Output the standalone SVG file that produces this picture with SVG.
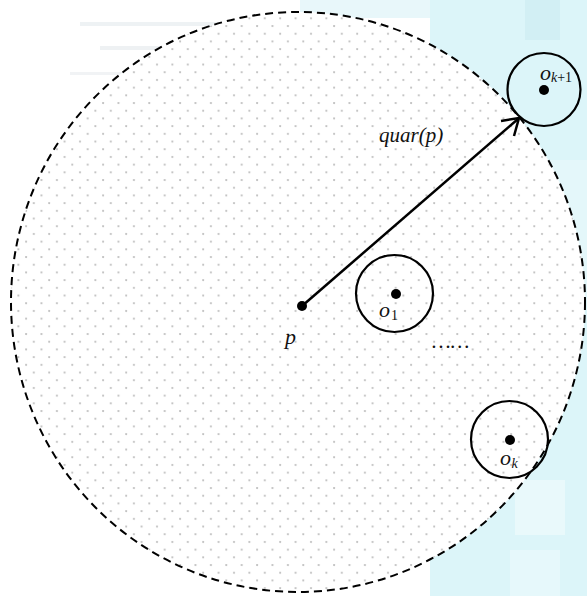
<svg xmlns="http://www.w3.org/2000/svg" width="587" height="596" viewBox="0 0 587 596">
<style>
.lbl{font-family:"Liberation Serif","Times New Roman",serif;font-style:italic;fill:#111}
.sub{font-family:"Liberation Serif","Times New Roman",serif;fill:#111;font-size:14px}
.ring{fill:none;stroke:#000;stroke-width:2.2}
.pt{fill:#000}
</style>
<defs>
<pattern id="dots" patternUnits="userSpaceOnUse" width="15.4" height="15.4">
<circle cx="3" cy="3" r="1.1" fill="#bdbdbd"/>
<circle cx="10.7" cy="10.7" r="1.1" fill="#bdbdbd"/>
</pattern>
</defs>
<rect width="587" height="596" fill="#ffffff"/>
<g id="background">
<rect x="430" y="0" width="157" height="596" fill="#dcf5f9"/>
<rect x="300" y="0" width="130" height="18" fill="#e8f7fa"/>
<rect x="525" y="0" width="35" height="40" fill="#d2eff4"/>
<rect x="500" y="160" width="87" height="140" fill="#e4f7fa"/>
<rect x="515" y="480" width="50" height="55" fill="#e9f9fb"/>
<rect x="510" y="550" width="50" height="46" fill="#e6f8fb"/>
<rect x="80" y="22" width="220" height="4" fill="#eef2f4"/>
<rect x="100" y="46" width="200" height="4" fill="#eef1f3"/>
<rect x="70" y="72" width="160" height="3" fill="#f1f3f5"/>
</g>
<g id="region">
<ellipse cx="298" cy="302" rx="287" ry="290" fill="#ffffff"/>
<ellipse cx="298" cy="302" rx="287" ry="290" fill="url(#dots)" stroke="#000" stroke-width="2" stroke-dasharray="8 5"/>
</g>
<g id="connectors">
<line x1="302" y1="306" x2="518" y2="119" stroke="#000" stroke-width="2.5"/>
<path d="M501,121 L519,118 L514,136" fill="none" stroke="#000" stroke-width="2.5" stroke-linejoin="miter"/>
</g>
<g id="node-p">
<circle class="pt" cx="302" cy="306" r="5"/>
<text class="lbl" x="285" y="344" font-size="22">p</text>
</g>
<g id="label-quar">
<text class="lbl" x="379" y="142" font-size="21">quar(p)</text>
</g>
<g id="node-o1">
<circle class="ring" cx="394.5" cy="293.5" r="38.5"/>
<circle class="pt" cx="396" cy="294" r="5"/>
<text class="lbl" x="379" y="317" font-size="22">o</text>
<text class="sub" x="391" y="320">1</text>
</g>
<g id="node-ok">
<circle class="ring" cx="509.5" cy="439.5" r="38.5"/>
<circle class="pt" cx="510" cy="440" r="5"/>
<text class="lbl" x="500" y="465" font-size="22">o</text>
<text class="sub" x="511.5" y="468" font-style="italic">k</text>
</g>
<g id="node-ok1">
<circle class="ring" cx="544" cy="89.5" r="36.5"/>
<circle class="pt" cx="544" cy="90" r="5"/>
<text class="lbl" x="540" y="80" font-size="22">o</text>
<text class="sub" x="551" y="82"><tspan font-style="italic">k</tspan>+1</text>
</g>
<g id="ellipsis">
<text class="lbl" x="432" y="348" font-size="21" font-style="normal">……</text>
</g>
</svg>
